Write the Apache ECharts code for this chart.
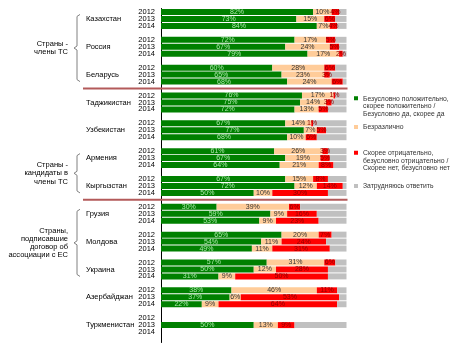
<!DOCTYPE html>
<html>
<head>
<meta charset="utf-8">
<script src="https://cdn.jsdelivr.net/npm/echarts@6/dist/echarts.min.js"></script>
<style>
html, body { margin: 0; padding: 0; background: #fff; }
#chart { width: 454px; height: 349px; }
</style>
</head>
<body>
<div id="chart"></div>
<script>
// Attitude survey by country, 2012–2014 (share of respondents, %)
const countries = ['Казахстан', 'Россия', 'Беларусь', 'Таджикистан', 'Узбекистан', 'Армения',
  'Кыргызстан', 'Грузия', 'Молдова', 'Украина', 'Азербайджан', 'Туркменистан'];
const years = ['2012', '2013', '2014'];

// one row per country: [2012, 2013, 2014]
const positive = [[82, 73, 84], [72, 67, 79], [60, 65, 68], [76, 75, 72], [67, 77, 68], [61, 67, 64],
  [67, 72, 50], [30, 59, 53], [65, 54, 49], [57, 50, 31], [38, 37, 22], [null, 50, null]];
const neutral = [[10, 15, 7], [17, 24, 17], [28, 23, 24], [17, 14, 13], [14, 7, 10], [26, 19, 21],
  [15, 12, 10], [39, 9, 9], [20, 11, 11], [31, 12, 9], [46, 6, 9], [null, 13, null]];
const negative = [[4, 6, 4], [5, 5, 2], [6, 3, 6], [1, 3, 5], [1, 5, 6], [3, 5, 8],
  [8, 14, 30], [6, 16, 23], [7, 24, 31], [6, 28, 50], [11, 53, 64], [null, 9, null]];
const unsure = [[4, 6, 5], [6, 4, 2], [6, 9, 2], [6, 8, 10], [18, 11, 16], [10, 9, 7],
  [10, 2, 10], [25, 16, 15], [8, 11, 9], [6, 10, 10], [5, 4, 5], [null, 28, null]];

const seriesNames = [
  'Безусловно положительно, скорее положительно / Безусловно да, скорее да',
  'Безразлично',
  'Скорее отрицательно, безусловно отрицательно / Скорее нет, безусловно нет',
  'Затрудняюсь ответить'
];
const legendLines = [
  'Безусловно положительно,\nскорее положительно /\nБезусловно да, скорее да',
  'Безразлично',
  'Скорее отрицательно,\nбезусловно отрицательно /\nСкорее нет, безусловно нет',
  'Затрудняюсь ответить'
];

// country groups marked with a brace on the left (indices into countries)
const groups = [
  { text: 'Страны -\nчлены ТС', from: 0, to: 2 },
  { text: 'Страны -\nкандидаты в\nчлены ТС', from: 5, to: 6 },
  { text: 'Страны,\nподписавшие\nдоговор об\nассоциации с ЕС', from: 7, to: 9 }
];
// horizontal dividers drawn after these countries
const dividersAfter = [2, 6];

const FONT = '"Liberation Sans", Arial, sans-serif';
const colors = ['#008000', '#FFCC99', '#FF0000', '#C0C0C0'];
const labelColors = ['#A9E7A9', '#333333', '#8B0000', '#333333'];

// each country takes 3 year rows plus an empty spacer row
const SLOTS = 4;
const yearSlots = countries.flatMap(() => [...years, '']);
const countrySlots = countries.flatMap(c => ['', c, '', '']);
const flat = rows => rows.flatMap(r => [...r, null]);

const chart = echarts.init(document.getElementById('chart'), null, { renderer: 'canvas' });

const series = [positive, neutral, negative, unsure].map((rows, i) => ({
  name: seriesNames[i],
  type: 'bar',
  stack: 'total',
  barCategoryGap: '14%',
  silent: true,
  data: flat(rows),
  itemStyle: { color: colors[i] },
  label: {
    show: i < 3,
    position: 'inside',
    formatter: p => p.value + '%',
    fontSize: 7,
    fontFamily: FONT,
    color: labelColors[i]
  }
}));

// legend: multi-line entries get a tall icon box whose square sits beside the first line
const LINE_H = 7.5;
const legendTops = [95.25, 123.25, 149.75, 182.25];
const legend = seriesNames.map((n, i) => {
  const lines = legendLines[i].split('\n').length;
  const boxH = lines * LINE_H;
  const multi = lines > 1;
  return {
    data: [n],
    orient: 'vertical',
    left: 354,
    top: legendTops[i],
    padding: 0,
    icon: multi ? 'path://M0,1.75h4v4h-4z M0,' + boxH + 'h0.01' : 'rect',
    itemWidth: 4,
    itemHeight: multi ? boxH : 4,
    selectedMode: false,
    formatter: () => legendLines[i],
    textStyle: { fontSize: 6.8, lineHeight: LINE_H, fontFamily: FONT, color: '#333' }
  };
});

chart.setOption({
  animation: false,
  textStyle: { fontFamily: FONT },
  grid: { left: 161, right: 107.5, top: 8.5, bottom: 6.5 },
  xAxis: { type: 'value', min: 0, max: 100, show: false },
  yAxis: [
    {
      type: 'category',
      inverse: true,
      data: yearSlots,
      axisLine: { lineStyle: { color: '#000', width: 1 } },
      axisTick: { length: 3, lineStyle: { color: '#000' } },
      axisLabel: { interval: 0, fontSize: 7.5, color: '#000', margin: 6, fontFamily: FONT }
    },
    {
      type: 'category',
      inverse: true,
      position: 'left',
      data: countrySlots,
      axisLine: { show: false },
      axisTick: { show: false },
      axisLabel: { interval: 0, fontSize: 7.5, color: '#000', margin: 75, align: 'left', fontFamily: FONT }
    }
  ],
  legend: legend,
  series: series
});

// braces, group captions and dividers positioned from the category axis
const yAt = k => chart.convertToPixel({ yAxisIndex: 0 }, k);
const xEnd = chart.convertToPixel({ xAxisIndex: 0 }, 100);
const graphics = [];

groups.forEach(g => {
  const top = yAt(g.from * SLOTS + 1) - 4.5;
  const bottom = yAt(g.to * SLOTS + 1) + 7;
  const mid = (top + bottom) / 2;
  graphics.push({
    type: 'polyline',
    silent: true,
    shape: { points: [[80, top], [77, top + 2], [77, mid - 2], [74, mid], [77, mid + 2], [77, bottom - 2], [80, bottom]] },
    style: { stroke: '#808080', lineWidth: 1, fill: null }
  });
  graphics.push({
    type: 'text',
    silent: true,
    x: 68,
    y: mid,
    style: {
      text: g.text,
      align: 'right',
      verticalAlign: 'middle',
      fontSize: 7.5,
      lineHeight: 8.2,
      fontFamily: FONT,
      fill: '#000'
    }
  });
});

dividersAfter.forEach(c => {
  const y = yAt(c * SLOTS + 3);
  graphics.push({
    type: 'line',
    silent: true,
    z: 10,
    shape: { x1: 83, y1: y, x2: xEnd + 1, y2: y },
    style: { stroke: '#B35A5A', lineWidth: 2 }
  });
});

chart.setOption({ graphic: graphics });
</script>
</body>
</html>
